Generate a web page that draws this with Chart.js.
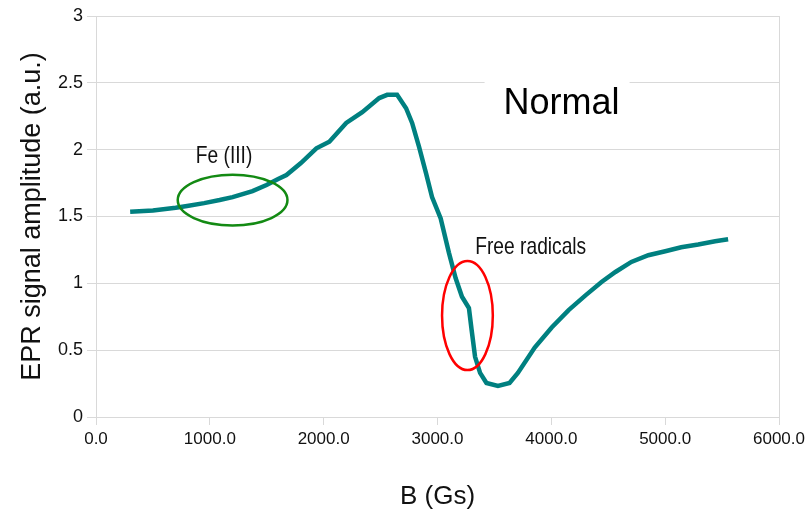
<!DOCTYPE html>
<html>
<head>
<meta charset="utf-8">
<script src="https://cdn.jsdelivr.net/npm/chart.js@4.4.0/dist/chart.umd.min.js"></script>
<style>
  html, body { margin: 0; padding: 0; background: #fff; }
  #wrap { width: 810px; height: 513px; }
</style>
</head>
<body>
<div id="wrap"><canvas id="epr"></canvas></div>
<script>
// magnetic field (Gs) and EPR amplitude (a.u.)
const fieldB = [300, 500, 700, 800, 950, 1086, 1200, 1375, 1498, 1600, 1673, 1800, 1936, 2050, 2198, 2339, 2488, 2558, 2645, 2724, 2777, 2838, 2899, 2952, 3028, 3100, 3159, 3215, 3276, 3300, 3330, 3374, 3430, 3531, 3633, 3706, 3854, 4003, 4152, 4300, 4441, 4563, 4703, 4852, 5001, 5141, 5290, 5439, 5553];
const amplitude = [1.535, 1.545, 1.565, 1.578, 1.60, 1.623, 1.645, 1.69, 1.735, 1.78, 1.81, 1.90, 2.01, 2.06, 2.20, 2.28, 2.386, 2.41, 2.41, 2.31, 2.20, 2.02, 1.825, 1.645, 1.486, 1.23, 1.04, 0.90, 0.815, 0.65, 0.45, 0.33, 0.254, 0.232, 0.254, 0.33, 0.52, 0.67, 0.80, 0.91, 1.01, 1.085, 1.16, 1.21, 1.24, 1.27, 1.29, 1.315, 1.33];

const xTicks = [0, 1000, 2000, 3000, 4000, 5000, 6000];
const yTicks = [0, 0.5, 1, 1.5, 2, 2.5, 3];

// annotations: ellipses and labels placed in data units
const notes = [
  { type: "ellipse", x: 1200, y: 1.623, rx: 482, ry: 0.19, color: "#138a13" },
  { type: "ellipse", x: 3263, y: 0.759, rx: 223, ry: 0.408, color: "#ff0000" },
  { type: "text", x: 1125, y: 1.95, text: "Fe (III)", size: 24 },
  { type: "text", x: 3819, y: 1.27, text: "Free radicals", size: 24 }
];
const bigLabel = { x: 4090, y: 2.34, text: "Normal" };

const sans = '"Liberation Sans", Arial, sans-serif';
const points = fieldB.map((b, i) => ({ x: b, y: amplitude[i] }));

const notesPlugin = {
  id: "notes",
  beforeDatasetsDraw(chart) {
    // white box behind the big label hides the grid line
    const { ctx, scales } = chart;
    const cx = scales.x.getPixelForValue(bigLabel.x);
    const cy = scales.y.getPixelForValue(bigLabel.y);
    ctx.save();
    ctx.fillStyle = "#fff";
    ctx.fillRect(cx - 77, cy - 25, 145, 50);
    ctx.font = "36px " + sans;
    ctx.fillStyle = "#000";
    ctx.textAlign = "center";
    ctx.textBaseline = "middle";
    ctx.fillText(bigLabel.text, cx, cy);
    ctx.restore();
  },
  afterDatasetsDraw(chart) {
    const { ctx, scales } = chart;
    const sx = scales.x, sy = scales.y;
    notes.forEach(n => {
      const cx = sx.getPixelForValue(n.x);
      const cy = sy.getPixelForValue(n.y);
      ctx.save();
      if (n.type === "ellipse") {
        const rx = Math.abs(sx.getPixelForValue(n.x + n.rx) - cx);
        const ry = Math.abs(sy.getPixelForValue(n.y + n.ry) - cy);
        ctx.beginPath();
        ctx.ellipse(cx, cy, rx, ry, 0, 0, Math.PI * 2);
        ctx.lineWidth = 2.5;
        ctx.strokeStyle = n.color;
        ctx.stroke();
      } else {
        // condensed lettering
        ctx.translate(cx, cy);
        ctx.scale(0.8, 1);
        ctx.font = n.size + "px " + sans;
        ctx.fillStyle = "#111";
        ctx.textAlign = "center";
        ctx.textBaseline = "middle";
        ctx.fillText(n.text, 0, 0);
      }
      ctx.restore();
    });
  }
};

new Chart(document.getElementById("epr"), {
  type: "line",
  data: {
    datasets: [{
      data: points,
      borderColor: "#008080",
      borderWidth: 4.5,
      pointRadius: 0,
      tension: 0,
      fill: false
    }]
  },
  options: {
    responsive: true,
    maintainAspectRatio: false,
    animation: false,
    layout: { padding: { left: 0, right: 31, top: 16, bottom: 1 } },
    plugins: { legend: { display: false }, tooltip: { enabled: false } },
    scales: {
      x: {
        type: "linear",
        min: 0,
        max: 6000,
        afterBuildTicks: s => { s.ticks = xTicks.map(v => ({ value: v })); },
        ticks: {
          callback: v => v.toFixed(1),
          font: { family: sans, size: 17 },
          color: "#111",
          padding: 4,
          maxRotation: 0
        },
        grid: {
          color: c => (c.index === xTicks.length - 1 ? "#d9d9d9" : "rgba(0,0,0,0)"),
          tickColor: "#d9d9d9",
          tickLength: 8
        },
        border: { color: "#d9d9d9" },
        title: {
          display: true,
          text: "B (Gs)",
          font: { family: sans, size: 26 },
          color: "#111",
          padding: { top: 0, bottom: 0 }
        },
        afterFit: s => { s.height = 95; }
      },
      y: {
        min: 0,
        max: 3,
        afterBuildTicks: s => { s.ticks = yTicks.map(v => ({ value: v })); },
        ticks: {
          callback: v => String(v),
          font: { family: sans, size: 18 },
          color: "#111",
          padding: 4
        },
        grid: { color: "#d9d9d9", tickColor: "#d9d9d9", tickLength: 9 },
        border: { color: "#d9d9d9" },
        title: {
          display: true,
          text: "EPR signal amplitude (a.u.)",
          font: { family: sans, size: 27 },
          color: "#111",
          padding: { top: 16, bottom: 0 }
        },
        afterFit: s => { s.width = 96; }
      }
    }
  },
  plugins: [notesPlugin]
});
</script>
</body>
</html>
